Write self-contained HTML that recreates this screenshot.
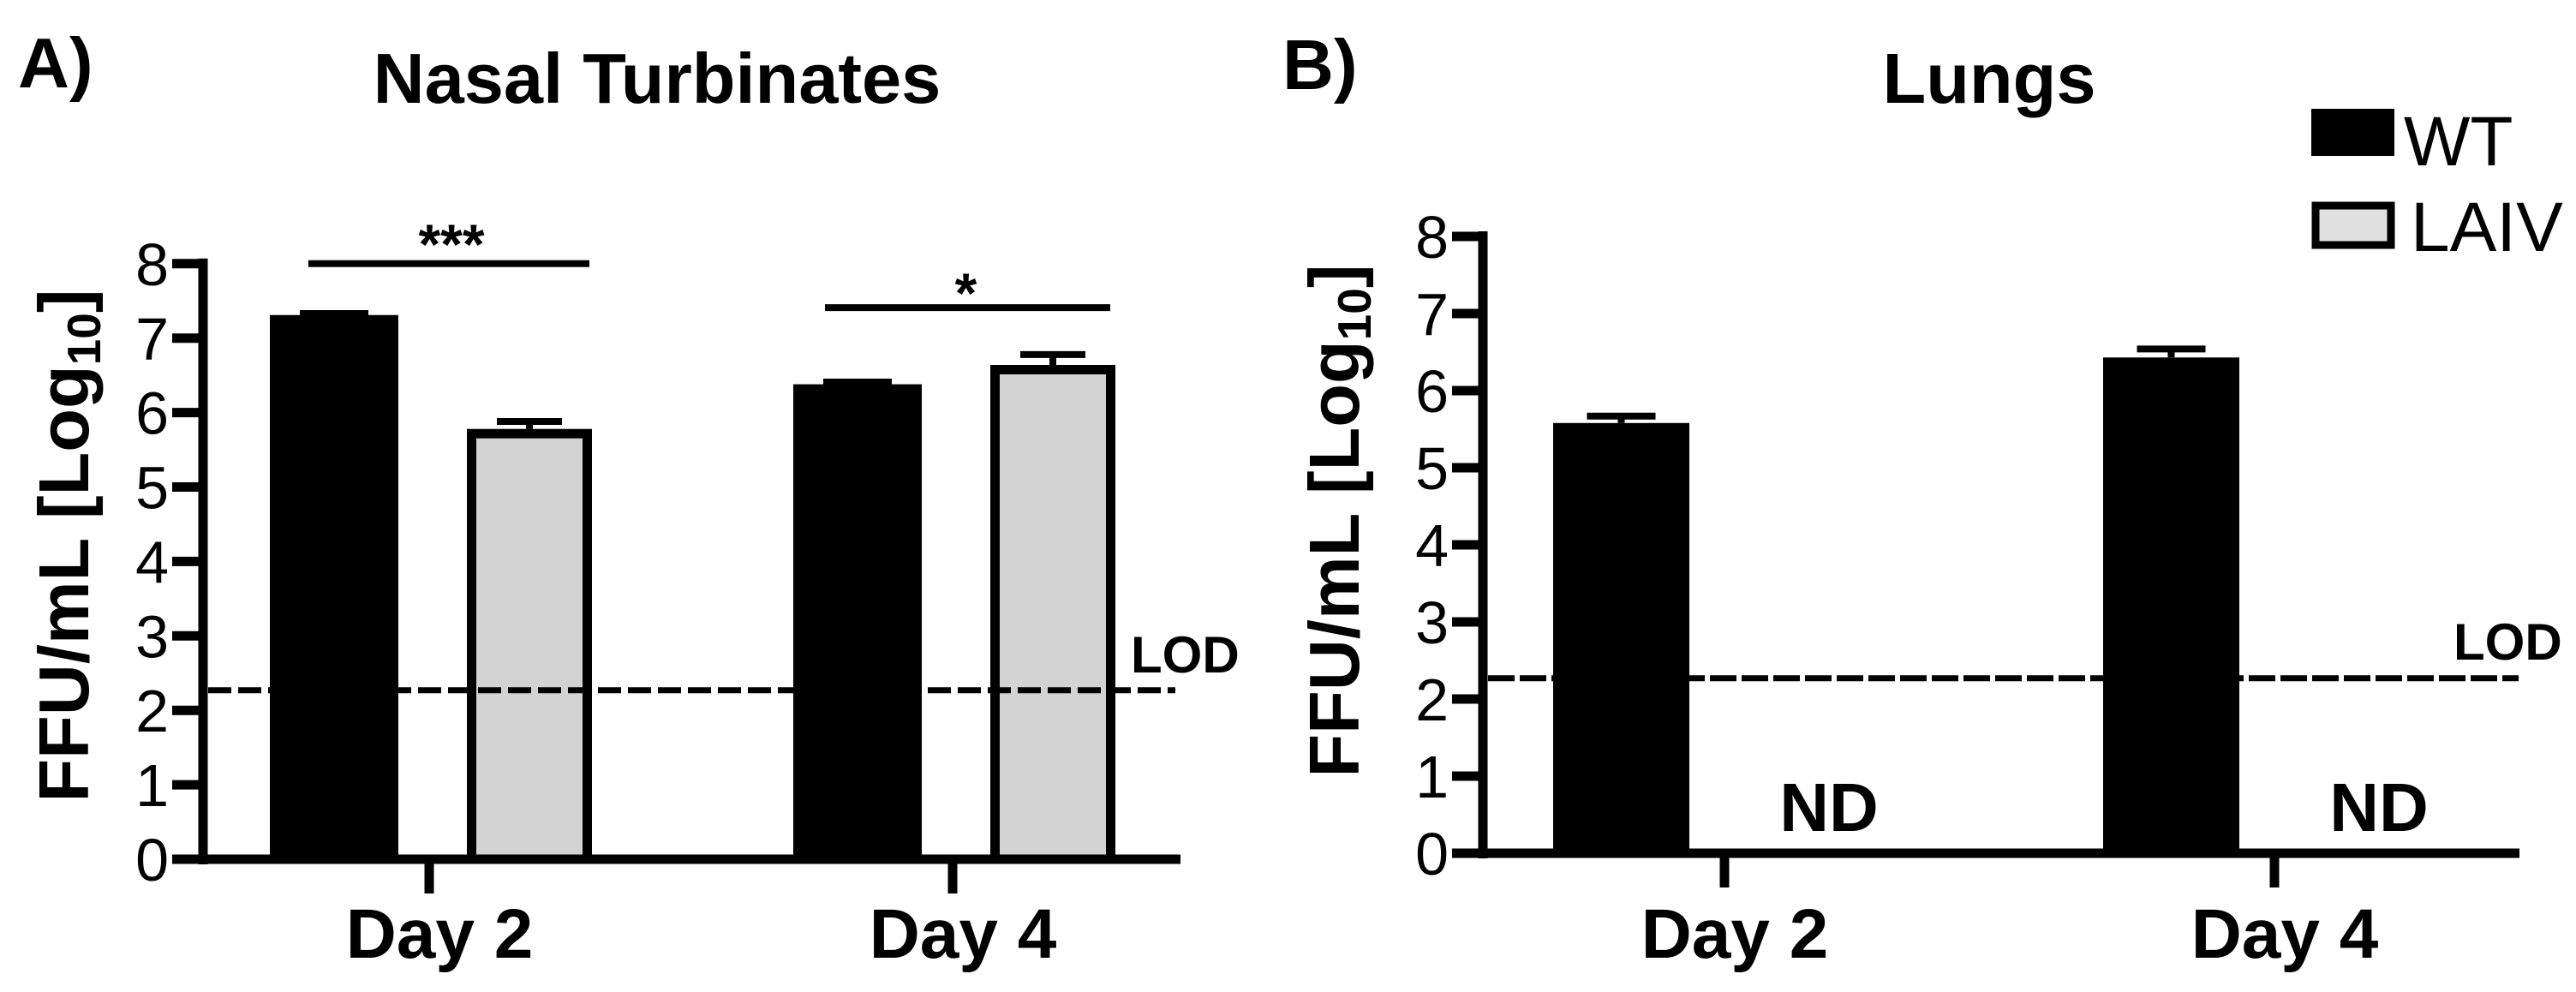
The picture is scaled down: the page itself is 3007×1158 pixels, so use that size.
<!DOCTYPE html>
<html><head><meta charset="utf-8"><style>
html,body{margin:0;padding:0;background:#fff;}
svg{display:block;font-family:"Liberation Sans",Arial,sans-serif;}
</style></head><body>
<svg id="fig" width="3007" height="1158" viewBox="0 0 3007 1158" xmlns="http://www.w3.org/2000/svg">
<g id="static">
  <text x="21" y="102" font-size="83" font-weight="bold">A)</text>
  <text x="767" y="120" font-size="83" font-weight="bold" text-anchor="middle">Nasal Turbinates</text>
  <text x="1497" y="104" font-size="83" font-weight="bold">B)</text>
  <text x="2322" y="120" font-size="83" font-weight="bold" text-anchor="middle">Lungs</text>
  <g>
    <rect x="2698" y="127" width="97" height="55" fill="#000"/>
    <text x="2806" y="193" font-size="82">WT</text>
    <rect x="2703" y="240" width="88" height="46" fill="#e0e0e0" stroke="#000" stroke-width="9"/>
    <text x="2814" y="293" font-size="82">LAIV</text>
  </g>
</g>
<g id="plots"></g>
</svg>
<script>
// ---- data ----
const categories = ["Day 2", "Day 4"];
const yTicks = [0,1,2,3,4,5,6,7,8];
const nasalWT = [7.31, 6.38];
const nasalWTErr = [7.33, 6.41];
const nasalLAIV = [5.78, 6.64];
const nasalLAIVErr = [5.88, 6.78];
const lungWT = [5.58, 6.43];
const lungWTErr = [5.67, 6.54];
const lungLAIVLabel = ["ND", "ND"];
const lodValue = [2.27];
const sigLabels = ["***", "*"];
const sigLevels = [8.0, 7.41];

const NS = "http://www.w3.org/2000/svg";
const root = document.getElementById("plots");
function mk(tag, attrs, parent, text){
  const e = document.createElementNS(NS, tag);
  for (const k in attrs) e.setAttribute(k, attrs[k]);
  if (text !== undefined) e.textContent = text;
  (parent || root).appendChild(e);
  return e;
}

function drawPanel(p){
  const g = mk("g", {});
  
  
  const y = v => p.y0 - v * p.unit;
  const cx = i => p.cats[i];
  const lab = mk("text", {transform:`translate(${p.labX},${p.labY}) rotate(-90)`, "font-size":83, "font-weight":"bold", "text-anchor":"middle"}, g);
  
  
  mk("tspan", {}, lab, "FFU/mL [Log");
  mk("tspan", {"font-size":55, dy:14}, lab, "10");
  mk("tspan", {dy:-14}, lab, "]");
  for (let i=0;i<categories.length;i++){
    const wt = mk("rect", {x:cx(i)+p.wt0, y:y(p.wt[i]), width:p.wt1-p.wt0, height:y(0)-y(p.wt[i]), fill:"#000"}, g);
    
    
    const ew = mk("path", {d:`M${cx(i)+(p.wt0+p.wt1)/2},${y(p.wt[i])}V${y(p.wtErr[i])}M${cx(i)+(p.wt0+p.wt1)/2-40},${y(p.wtErr[i])}H${cx(i)+(p.wt0+p.wt1)/2+40}`, stroke:"#000", "stroke-width":8, fill:"none"}, g);
    
    
    if (p.laiv){
      const sw = 11, x0 = cx(i)+p.l0+sw/2, x1 = cx(i)+p.l1-sw/2;
      const el = mk("path", {d:`M${(x0+x1)/2},${y(p.laiv[i])}V${y(p.laivErr[i])}M${(x0+x1)/2-38},${y(p.laivErr[i])}H${(x0+x1)/2+38}`, stroke:"#000", "stroke-width":8, fill:"none"}, g);
      
      
      const lb = mk("rect", {x:x0, y:y(p.laiv[i])+sw/2, width:x1-x0, height:y(0)-y(p.laiv[i])-sw/2, fill:"#d3d3d3", stroke:"#000", "stroke-width":sw}, g);
      
      
    } else {
      const nd = mk("text", {x:cx(i)+p.ndOff, y:970, "font-size":80, "font-weight":"bold", "text-anchor":"middle"}, g, lungLAIVLabel[i]);
      
      
    }
    const tk = mk("line", {x1:cx(i), x2:cx(i), y1:y(0), y2:y(0)+40, stroke:"#000", "stroke-width":11}, g);
    
    
    const cl = mk("text", {x:cx(i)+12, y:1118, "font-size":82, "font-weight":"bold", "text-anchor":"middle"}, g, categories[i]);
    
    
  }
  const lod = mk("line", {x1:p.ax+6, x2:p.lodEnd, y1:y(lodValue[0]), y2:y(lodValue[0]), stroke:"#000", "stroke-width":7, "stroke-dasharray":p.dash, "stroke-linecap":"butt"}, g);
  
  
  const lt = mk("text", {x:p.lodX, y:p.lodY, "font-size":60, "font-weight":"bold"}, g, "LOD");
  
  
  const ya = mk("line", {x1:p.ax, x2:p.ax, y1:y(8)-6, y2:y(0)+6, stroke:"#000", "stroke-width":11}, g);
  
  
  const xa = mk("line", {x1:p.ax-36, x2:p.axEnd, y1:y(0), y2:y(0), stroke:"#000", "stroke-width":11}, g);
  
  
  for (const t of yTicks){
    const tl = mk("line", {x1:p.ax-36, x2:p.ax, y1:y(t), y2:y(t), stroke:"#000", "stroke-width":11}, g);
    
    
    const tt = mk("text", {x:p.ax-40, y:y(t)+25, "font-size":70, "text-anchor":"end"}, g, String(t));
    
    
  }
  if (p.sig){
    p.sig.forEach((s,i)=>{
      const sl = mk("line", {x1:s[0], x2:s[1], y1:y(sigLevels[i]), y2:y(sigLevels[i]), stroke:"#000", "stroke-width":8}, g);
      
      
      const st = mk("text", {x:(s[0]+s[1])/2 + s[2], y:y(sigLevels[i])-10 + s[3], "font-size":66, "font-weight":"bold", "text-anchor":"middle"}, g, sigLabels[i]);
      
      
    });
  }
}

drawPanel({name:"panel-a-nasal", y0:1003, unit:86.9, ax:237, axEnd:1378, cats:[501,1112],
  wt:nasalWT, wtErr:nasalWTErr, laiv:nasalLAIV, laivErr:nasalLAIVErr,
  wt0:-186, wt1:-36, l0:44, l1:190, labX:103, labY:637,
  lodEnd:1372, lodX:1320, lodY:785, dash:"27 8",
  sig:[[360,688,3,10],[963,1296,-2,16]]});
drawPanel({name:"panel-b-lungs", y0:996, unit:90, ax:1731, axEnd:2941, cats:[2013,2655],
  wt:lungWT, wtErr:lungWTErr, laiv:null,
  wt0:-200, wt1:-41, ndOff:122, labX:1586, labY:608,
  lodEnd:2940, lodX:2864, lodY:770, dash:"31 6"});
</script>
</body></html>
